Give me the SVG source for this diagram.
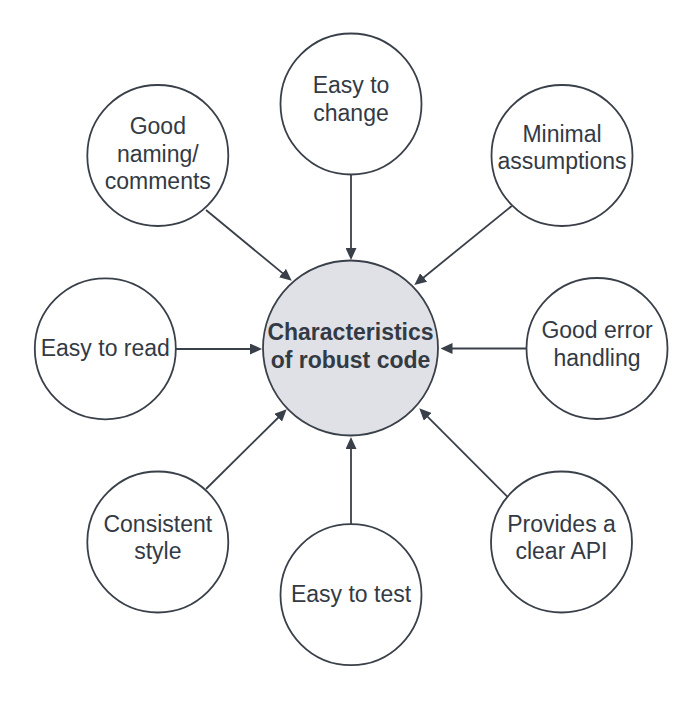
<svg xmlns="http://www.w3.org/2000/svg" width="693" height="702" viewBox="0 0 693 702">
<style>
.n{fill:#ffffff;stroke:#3a4049;stroke-width:1.8}
.c{fill:#dfe1e6;stroke:#3a4049;stroke-width:1.8}
.t{font-family:"Liberation Sans",Arial,sans-serif;font-size:23px;fill:#333a44;text-anchor:middle}
.b{font-weight:bold}
.e{stroke:#3a4049;stroke-width:1.8;fill:none;marker-end:url(#ah)}
</style>
<defs>
<marker id="ah" markerUnits="userSpaceOnUse" markerWidth="12" markerHeight="11" refX="6" refY="5.5" orient="auto" viewBox="0 0 12 11">
<path d="M0,0 L12,5.5 L0,11 z" fill="#3a4049"/>
</marker>
</defs>
<rect width="693" height="702" fill="#ffffff"/>
<g id="connectors">
<line class="e" x1="351" y1="174.5" x2="351" y2="254"/>
<line class="e" x1="206" y1="210" x2="287.1" y2="276.9"/>
<line class="e" x1="511.7" y1="206" x2="419" y2="281.2"/>
<line class="e" x1="176" y1="349" x2="256" y2="349"/>
<line class="e" x1="526.7" y1="348.5" x2="446.5" y2="348.5"/>
<line class="e" x1="206" y1="489" x2="282.4" y2="413.5"/>
<line class="e" x1="351" y1="524.3" x2="351" y2="443"/>
<line class="e" x1="507.3" y1="496.7" x2="423.5" y2="412.6"/>
</g>
<g id="center">
<circle class="c" cx="350.5" cy="348" r="87.5"/>
<text class="t b" x="350.5" y="340">Characteristics</text>
<text class="t b" x="350.5" y="368">of robust code</text>
</g>
<g id="easy-to-change">
<circle class="n" cx="351" cy="104" r="70.5"/>
<text class="t" x="351" y="93.3">Easy to</text>
<text class="t" x="351" y="120.5">change</text>
</g>
<g id="good-naming">
<circle class="n" cx="157.8" cy="155.5" r="70.5"/>
<text class="t" x="157.8" y="133.5">Good</text>
<text class="t" x="157.8" y="161.5">naming/</text>
<text class="t" x="157.8" y="189">comments</text>
</g>
<g id="minimal-assumptions">
<circle class="n" cx="562" cy="155.5" r="70.5"/>
<text class="t" x="562" y="141.7">Minimal</text>
<text class="t" x="562" y="169">assumptions</text>
</g>
<g id="easy-to-read">
<circle class="n" cx="105.3" cy="348.8" r="70.5"/>
<text class="t" x="105.3" y="356">Easy to read</text>
</g>
<g id="good-error-handling">
<circle class="n" cx="597" cy="348.5" r="70.5"/>
<text class="t" x="597" y="338">Good error</text>
<text class="t" x="597" y="366">handling</text>
</g>
<g id="consistent-style">
<circle class="n" cx="157.8" cy="542" r="70.5"/>
<text class="t" x="157.8" y="531.7">Consistent</text>
<text class="t" x="157.8" y="559.3">style</text>
</g>
<g id="easy-to-test">
<circle class="n" cx="351" cy="594.7" r="70.5"/>
<text class="t" x="351" y="601.7">Easy to test</text>
</g>
<g id="provides-clear-api">
<circle class="n" cx="561.5" cy="542" r="70.5"/>
<text class="t" x="561.5" y="531.7">Provides a</text>
<text class="t" x="561.5" y="559.3">clear API</text>
</g>
</svg>
